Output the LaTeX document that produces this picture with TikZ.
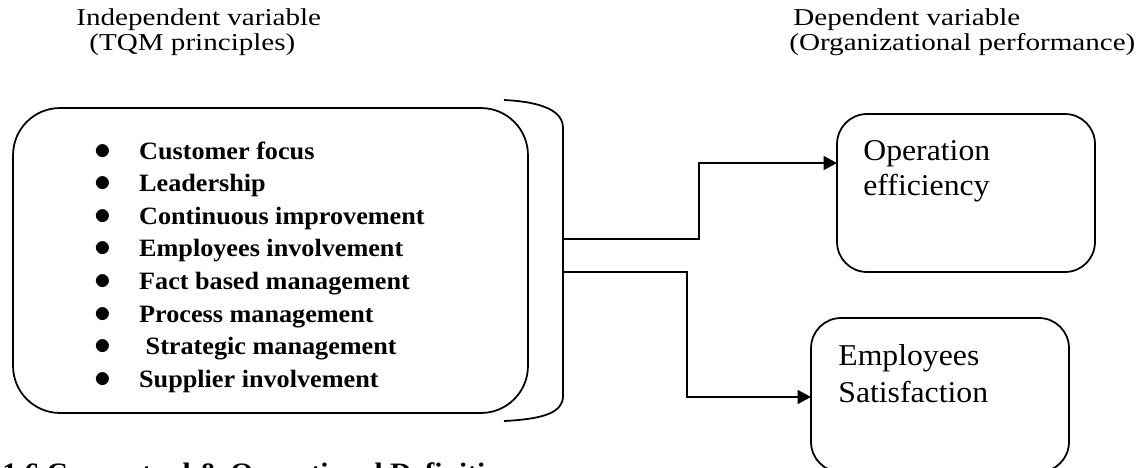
\documentclass[tikz,border=0pt]{standalone}
\usepackage{fontspec}
\setmainfont{Liberation Serif}[FakeStretch=1.05]
\newfontfamily\headfont{Liberation Serif}[FakeStretch=1.2]
\usepackage{tikz}
\usetikzlibrary{arrows.meta}

\newcommand{\bul}{\makebox[25.5pt][l]{\scalebox{1.33}{$\bullet$}}}

\begin{document}
\begin{tikzpicture}[x=0.02cm,y=-0.02cm,
	box/.style={draw,line width=1pt,inner sep=0pt},
	head/.style={anchor=base west,inner sep=0pt,font=\headfont\fontsize{13.8}{16}\selectfont},
	item/.style={anchor=base west,inner sep=0pt,font=\bfseries\fontsize{14.2}{17}\selectfont},
	lab/.style={anchor=base west,inner sep=0pt,font=\fontsize{17.2}{20}\selectfont},
	>={Triangle[length=0.27cm,width=0.28cm]}]
		\path[use as bounding box,clip] (0,0) rectangle (1141,467);
		
		\node[head] (indep1) at (76,25) {Independent variable};
		\node[head] (indep2) at (89,50) {(TQM principles)};
		\node[head] (dep1) at (793,25) {Dependent variable};
		\node[head] (dep2) at (789,50) {(Organizational performance)};
		
		\node[box,rounded corners=0.94cm,minimum width=10.3cm,minimum height=6.1cm] (tqm) at (270.5,260.5) {};
		\node[item] (cf) at (94,159) {\bul Customer focus};
		\node[item] (ls) at (94,191.6) {\bul Leadership};
		\node[item] (ci) at (94,224.2) {\bul Continuous improvement};
		\node[item] (ei) at (94,256.8) {\bul Employees involvement};
		\node[item] (fm) at (94,289.4) {\bul Fact based management};
		\node[item] (pm) at (94,322) {\bul Process management};
		\node[item] (sm) at (94,354.6) {\bul\ Strategic management};
		\node[item] (si) at (94,387.2) {\bul Supplier involvement};
		
		\node[box,rounded corners=0.6cm,minimum width=5.16cm,minimum height=3.16cm] (op) at (966,193) {};
		\node[lab] (op1) at (863,160) {Operation};
		\node[lab] (op2) at (863,195) {efficiency};
		
		\node[box,rounded corners=0.6cm,minimum width=5.16cm,minimum height=3.08cm] (emp) at (940,395) {};
		\node[lab] (emp1) at (838,365) {Employees};
		\node[lab] (emp2) at (838,402) {Satisfaction};
		
		\node[anchor=base west,inner sep=0pt,font=\bfseries\fontsize{16}{19}\selectfont] (sec) at (2,482) {1.6 Conceptual \& Operational Definitions};
		
		% bracket round the principles
		\draw[line width=1pt] (504,100) .. controls (545,102) and (563,112) .. (563,128)
			-- (563,396) .. controls (563,412) and (545,419) .. (504,421);
		
		\coordinate (br1) at (563,239);
		\coordinate (br2) at (563,272);
		\coordinate (in1) at (837,163);
		\coordinate (in2) at (811,397);
		
		\draw[->,line width=1pt] (br1) -- ++(136,0) |- (in1);
		\draw[->,line width=1pt] (br2) -- ++(124,0) |- (in2);
	\end{tikzpicture}
\end{document}
